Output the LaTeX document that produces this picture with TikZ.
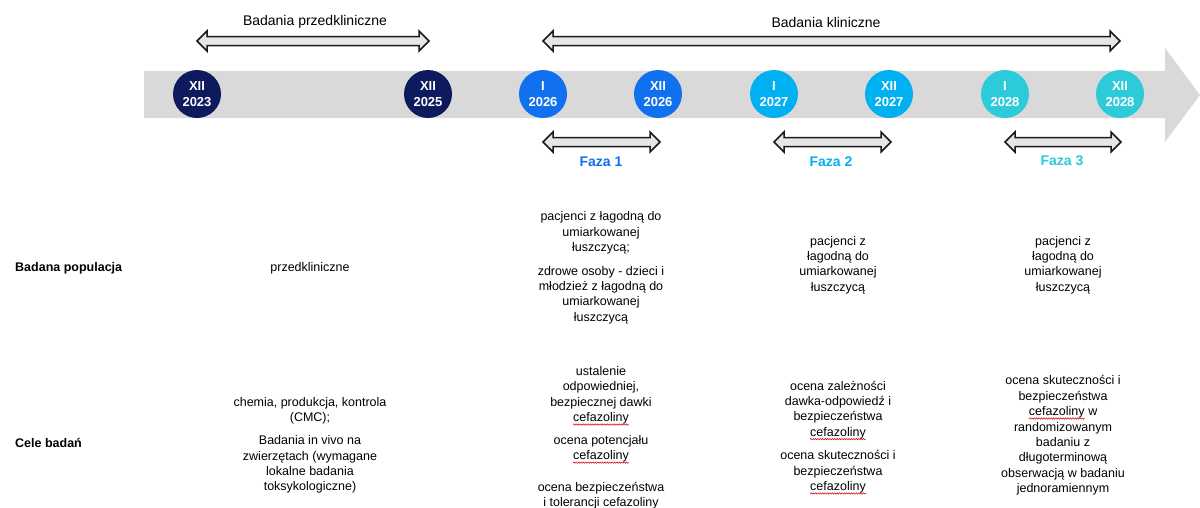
\documentclass[tikz,border=0pt]{standalone}
\usepackage{fontspec}
\setmainfont{Liberation Sans}
\usetikzlibrary{calc,decorations.pathmorphing}
\definecolor{navy}{HTML}{0D1A5E}
\definecolor{blueA}{HTML}{1070EE}
\definecolor{blueB}{HTML}{00B0F0}
\definecolor{tealC}{HTML}{2DCAD9}
\definecolor{bandgrey}{HTML}{D9D9D9}
\definecolor{arrowgrey}{HTML}{E6E6E6}
\newcommand\sq[1]{\tikz[baseline=(sqw.base)]{\node[inner sep=0pt] (sqw) {#1};
  \draw[red!85!black, line width=0.5pt, decorate, decoration={snake, amplitude=0.7pt, segment length=2.4pt}]
    ($(sqw.base west)+(0pt,-2.8pt)$) -- ($(sqw.base east)+(0pt,-2.8pt)$);}}
\newcommand\dblarrow[2]{%
  \draw[spanarrow] (#1) -- ++(10,-10) -- ++(0,5.5) -- ($(#2)+(-10,-4.5)$) -- ++(0,-5.5) -- (#2)
    -- ++(-10,10) -- ++(0,-5.5) -- ($(#1)+(10,4.5)$) -- ++(0,5.5) -- cycle;}
\begin{document}
\begin{tikzpicture}[x=1pt,y=-1pt,
  every node/.style={font=\fontsize{12.5}{15.4}\selectfont, inner sep=0pt},
  txt/.style={align=center},
  head/.style={font=\fontsize{14}{16}\selectfont},
  rowlabel/.style={anchor=west, font=\fontsize{12.5}{15.4}\selectfont\bfseries},
  dot/.style={circle, minimum size=48pt, text=white, align=center, inner sep=0pt,
    font=\fontsize{13}{16}\selectfont\bfseries},
  faza/.style={font=\fontsize{14}{16}\selectfont\bfseries},
  spanarrow/.style={draw=black!90, line width=1.5pt, fill=arrowgrey, line join=miter},
  ]
\useasboundingbox (0,0) rectangle (1200,507);
\clip (0,0) rectangle (1200,507);
% timeline band
\fill[bandgrey] (144,71) -- (1165,71) -- (1165,48) -- (1200,95) -- (1165,142) -- (1165,118) -- (144,118) -- cycle;
% milestones
\node[dot, fill=navy]  (c1) at (197,94)  {XII\\2023};
\node[dot, fill=navy]  (c2) at (428,94)  {XII\\2025};
\node[dot, fill=blueA] (c3) at (543,94)  {I\\2026};
\node[dot, fill=blueA] (c4) at (658,94)  {XII\\2026};
\node[dot, fill=blueB] (c5) at (774,94)  {I\\2027};
\node[dot, fill=blueB] (c6) at (889,94)  {XII\\2027};
\node[dot, fill=tealC] (c7) at (1005,94) {I\\2028};
\node[dot, fill=tealC] (c8) at (1120,94) {XII\\2028};
% span arrows
\coordinate (a1) at (c1 |- 0,41);
\coordinate (a2) at ($(c2 |- 0,41)+(1,0)$);
\coordinate (b1) at (c3 |- 0,41);
\coordinate (b2) at (c8 |- 0,41);
\coordinate (f1l) at (c3 |- 0,142);
\coordinate (f1r) at ($(c4 |- 0,142)+(2,0)$);
\coordinate (f2l) at (c5 |- 0,142);
\coordinate (f2r) at ($(c6 |- 0,142)+(2,0)$);
\coordinate (f3l) at (c7 |- 0,142);
\coordinate (f3r) at ($(c8 |- 0,142)+(1,0)$);
\dblarrow{a1}{a2}
\dblarrow{b1}{b2}
\dblarrow{f1l}{f1r}
\dblarrow{f2l}{f2r}
\dblarrow{f3l}{f3r}
% labels
\node[head] (lpre) at (315,22) {Badania przedkliniczne};
\node[head] (lkl)  at (826,22) {Badania kliniczne};
\node[faza, text=blueA] (fz1) at (601,162) {Faza 1};
\node[faza, text=blueB] (fz2) at (831,162) {Faza 2};
\node[faza, text=tealC] (fz3) at (1062,161) {Faza 3};
% row labels
\node[rowlabel] (rpop) at (15,268) {Badana populacja};
\node[rowlabel] (rcel) at (15,443) {Cele badań};
% column 0
\node[txt] (p0) at (310,268) {przedkliniczne};
\node[txt] (g0a) at (310,410.5) {chemia, produkcja, kontrola\\(CMC);};
\node[txt] (g0b) at (310,464.5) {Badania in vivo na\\zwierzętach (wymagane\\lokalne badania\\toksykologiczne)};
% column 1
\node[txt] (p1a) at (601,233) {pacjenci z łagodną do\\umiarkowanej\\łuszczycą;};
\node[txt] (p1b) at (601,295) {zdrowe osoby - dzieci i\\młodzież z łagodną do\\umiarkowanej\\łuszczycą};
\node[txt] (g1a) at (601,396) {ustalenie\\odpowiedniej,\\bezpiecznej dawki\\\sq{cefazoliny}};
\node[txt] (g1b) at (601,449.5) {ocena potencjału\\\sq{cefazoliny}};
\node[txt] (g1c) at (601,495.5) {ocena bezpieczeństwa\\i tolerancji cefazoliny};
% column 2
\node[txt] (p2) at (838,265) {pacjenci z\\łagodną do\\umiarkowanej\\łuszczycą};
\node[txt] (g2a) at (838,410.5) {ocena zależności\\dawka-odpowiedź i\\bezpieczeństwa\\\sq{cefazoliny}};
\node[txt] (g2b) at (838,472.5) {ocena skuteczności i\\bezpieczeństwa\\\sq{cefazoliny}};
% column 3
\node[txt] (p3) at (1063,265) {pacjenci z\\łagodną do\\umiarkowanej\\łuszczycą};
\node[txt] (g3) at (1063,435.5) {ocena skuteczności i\\bezpieczeństwa\\\sq{cefazoliny} w\\randomizowanym\\badaniu z\\długoterminową\\obserwacją w badaniu\\jednoramiennym};
\end{tikzpicture}
\end{document}
